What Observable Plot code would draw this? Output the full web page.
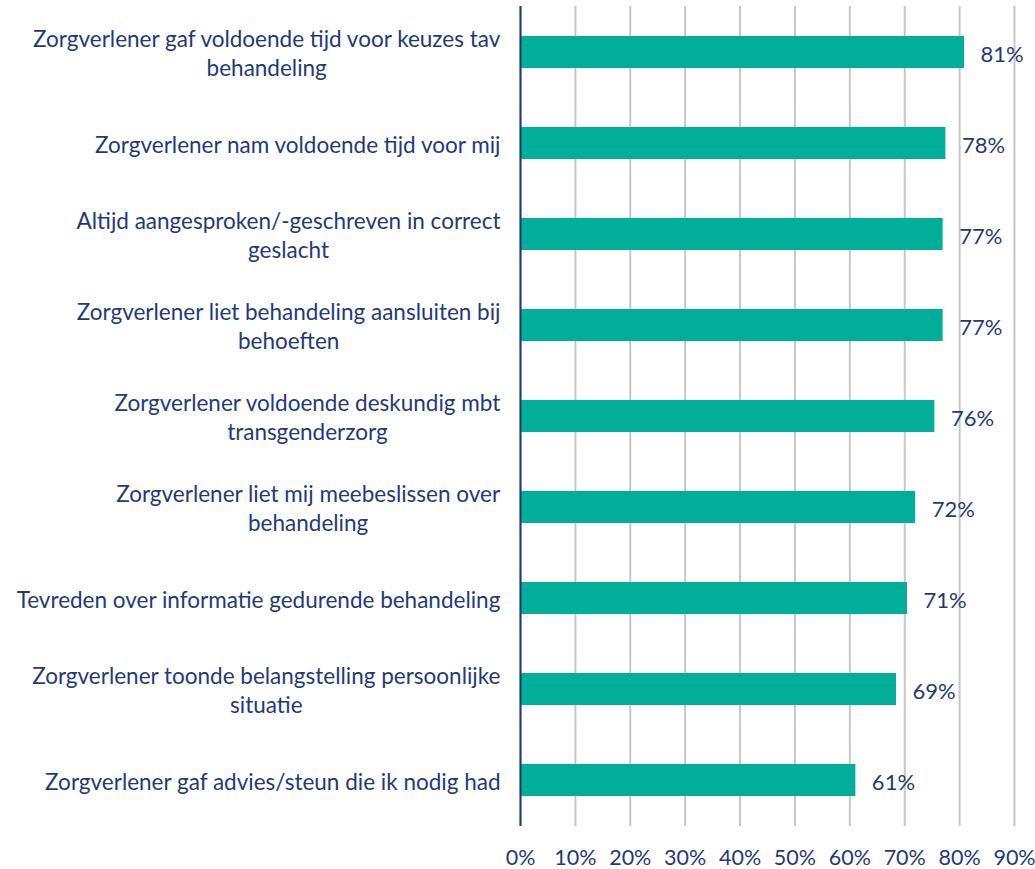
<!DOCTYPE html>
<html>
<head>
<meta charset="utf-8">
<script src="https://cdn.jsdelivr.net/npm/d3@7"></script>
<script src="https://cdn.jsdelivr.net/npm/@observablehq/plot@0.6"></script>
<style>
  html, body { margin: 0; padding: 0; background: #ffffff; }
  #chart { width: 1035px; height: 869px; }
</style>
</head>
<body>
<div id="chart"></div>
<script>
// Categories (top to bottom)
const categories = [
  "Zorgverlener gaf voldoende tijd voor keuzes tav behandeling",
  "Zorgverlener nam voldoende tijd voor mij",
  "Altijd aangesproken/-geschreven in correct geslacht",
  "Zorgverlener liet behandeling aansluiten bij behoeften",
  "Zorgverlener voldoende deskundig mbt transgenderzorg",
  "Zorgverlener liet mij meebeslissen over behandeling",
  "Tevreden over informatie gedurende behandeling",
  "Zorgverlener toonde belangstelling persoonlijke situatie",
  "Zorgverlener gaf advies/steun die ik nodig had"
];
// Tick labels as wrapped in the original
const tickLabels = [
  "Zorgverlener gaf voldoende tijd voor keuzes tav\nbehandeling",
  "Zorgverlener nam voldoende tijd voor mij",
  "Altijd aangesproken/-geschreven in correct\ngeslacht",
  "Zorgverlener liet behandeling aansluiten bij\nbehoeften",
  "Zorgverlener voldoende deskundig mbt\ntransgenderzorg",
  "Zorgverlener liet mij meebeslissen over\nbehandeling",
  "Tevreden over informatie gedurende behandeling",
  "Zorgverlener toonde belangstelling persoonlijke\nsituatie",
  "Zorgverlener gaf advies/steun die ik nodig had"
];
// Percentages
const values = [80.9, 77.5, 77.0, 77.0, 75.5, 72.0, 70.5, 68.5, 61.1];
// Axis ticks
const xTicks = [0, 10, 20, 30, 40, 50, 60, 70, 80, 90];

const data = categories.map((c, i) => ({category: c, value: values[i]}));
const labelOf = new Map(categories.map((c, i) => [c, tickLabels[i]]));

const navy = "#1f3a78";
const teal = "#00ae9a";

const chart = Plot.plot({
  width: 1035,
  height: 869,
  marginLeft: 520,
  marginRight: 21,
  marginTop: 6,
  marginBottom: 43,
  style: {fontFamily: "Lato, 'Open Sans', sans-serif", fontSize: "21px", color: navy, background: "#ffffff"},
  x: {domain: [0, 90], label: null},
  y: {domain: categories, paddingInner: 0.65, paddingOuter: 0.325, align: 0.5, label: null},
  marks: [
    Plot.gridX(xTicks, {stroke: "#c6c6c6", strokeOpacity: 1, strokeWidth: 2}),
    Plot.barX(data, {x: "value", y: "category", fill: teal}),
    Plot.ruleX([0], {stroke: navy, strokeWidth: 2}),
    Plot.text(data, {
      x: "value", y: "category",
      text: d => Math.round(d.value) + "%",
      textAnchor: "start", dx: 16, dy: 2,
      fill: navy, fontSize: 22
    }),
    Plot.axisX({ticks: xTicks, tickFormat: d => d + "%", tickSize: 0, tickPadding: 23, fontSize: 21.5, label: null}),
    Plot.axisY({tickSize: 0, tickPadding: 20, tickFormat: c => labelOf.get(c), lineHeight: 1.29, fontSize: 22.5, label: null})
  ]
});

document.getElementById("chart").append(chart);

// Center multi-line category labels on their widest line (Excel style), keeping right edge
d3.select(chart).selectAll('g[aria-label="y-axis tick label"] text').each(function() {
  const w = this.getBBox().width;
  const t = this.getAttribute("transform") || "";
  this.setAttribute("text-anchor", "middle");
  this.setAttribute("transform", t + ` translate(${-w / 2},0)`);
});
</script>
</body>
</html>
